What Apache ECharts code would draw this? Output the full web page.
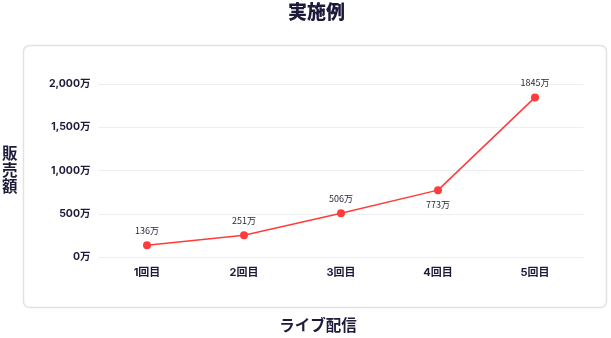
<!DOCTYPE html>
<html><head><meta charset="utf-8">
<script src="https://cdn.jsdelivr.net/npm/echarts@6/dist/echarts.min.js"></script>
<style>html,body{margin:0;padding:0;background:#fff}#c{width:611px;height:338px}</style>
</head><body><div id="c"></div>
<script>
const categories = ['1回目','2回目','3回目','4回目','5回目'];
const sales = [136, 251, 506, 773, 1845];
const labelBelow = [false, false, false, true, false];
const titleText = '実施例';
const yName = '販売額';
const xName = 'ライブ配信';

const dark = '#1d1b3a';
const font = "Inter, 'Noto Sans CJK JP', sans-serif";
const chart = echarts.init(document.getElementById('c'), null, {renderer:'canvas'});
chart.setOption({
  animation: false,
  graphic: [
    {type:'rect', shape:{x:23.5, y:45.5, width:583, height:262, r:6}, style:{fill:'none', stroke:'#e2e2e2', lineWidth:1.5}, z:-1},
    {type:'text', x:316.5, y:2, style:{text: titleText, fill: dark, align:'center', font: "900 19px 'Noto Sans CJK JP'"}},
    {type:'text', x:2, y:145, style:{text: yName.split('').join('\n'), fill: dark, lineHeight:16.5, font: "bold 15.5px 'Noto Sans CJK JP'"}},
    {type:'text', x:318, y:317, style:{text: xName, fill: dark, align:'center', font: "bold 15.5px 'Noto Sans CJK JP'"}}
  ],
  grid: {left: 98.5, right: 27.5, top: 84, bottom: 81},
  xAxis: {type:'category', data: categories, boundaryGap: true,
    axisLine:{show:false}, axisTick:{show:false},
    axisLabel:{color: dark, fontWeight:'bold', fontSize:11, margin:10, fontFamily: font}},
  yAxis: {type:'value', min:0, max:2000, interval:500,
    axisLine:{show:false}, axisTick:{show:false},
    splitLine:{lineStyle:{color:'#eeeeee'}},
    axisLabel:{color: dark, fontWeight:'bold', fontSize:10.5, margin:8, fontFamily: font,
      formatter: v => v.toLocaleString('en-US') + '万'}},
  series: [{
    type:'line', data: sales.map((v,i)=>({value:v, label:{position: labelBelow[i] ? 'bottom':'top'}})),
    symbol:'circle', symbolSize:8,
    lineStyle:{color:'#ff3b3b', width:1.5},
    itemStyle:{color:'#ff3b3b'},
    label:{show:true, formatter: p => p.value + '万', fontSize:9, color:'#2a2a3a', distance:6, fontFamily:"'Noto Sans CJK JP', sans-serif"}
  }]
});
</script></body></html>
